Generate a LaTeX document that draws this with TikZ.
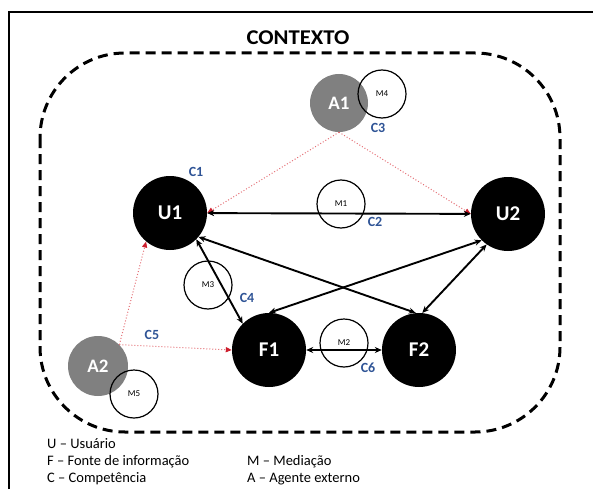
\documentclass[tikz,border=0pt]{standalone}
\usepackage{fontspec}
\setmainfont{Carlito}
\usetikzlibrary{arrows.meta}
\definecolor{cblue}{RGB}{47,84,150}
\definecolor{agray}{RGB}{128,128,128}
\definecolor{rline}{RGB}{228,112,118}
\definecolor{rtip}{RGB}{205,30,45}
\begin{document}
\begin{tikzpicture}[x=1pt,y=-1pt,
    big/.style={circle,fill=black,text=white,inner sep=0pt,minimum size=74pt,font=\fontsize{21}{21}\selectfont\bfseries},
    agent/.style={circle,fill=agray,text=white,inner sep=0pt,minimum size=58pt,font=\fontsize{19}{19}\selectfont\bfseries},
    med/.style={circle,draw,line width=1.2pt,inner sep=0pt,minimum size=48pt,font=\fontsize{9}{9}\selectfont},
    comp/.style={text=cblue,inner sep=0pt,font=\fontsize{14}{14}\selectfont\bfseries},
    lgd/.style={anchor=west,inner sep=0pt,font=\fontsize{14.5}{14.5}\selectfont},
    rel/.style={{Stealth[length=7pt,width=6pt]}-{Stealth[length=7pt,width=6pt]},line width=1.9pt},
    ext/.style={-{Triangle[length=6pt,width=5pt,color=rtip]},rline,dotted,line width=1pt}]
    \useasboundingbox(0,0)rectangle(593,489);
    % frame and context
    \draw[line width=2pt](9,489)--(9,12)--(593,12);
    \node[font=\fontsize{21}{21}\selectfont\bfseries,xscale=1.08](ctx)at(298,38){CONTEXTO};
    \draw[line width=3pt,dash pattern=on 10pt off 6pt,rounded corners=85pt](40,53)rectangle(560,432);
    % users and sources
    \node[big](U1)at(170,213){U1};
    \node[big](U2)at(508,214){U2};
    \node[big](F1)at(269,350){F1};
    \node[big](F2)at(419,350){F2};
    % external agents
    \node[agent](A1)at(339,103){A1};
    \node[agent,minimum size=60pt](A2)at(98,366){A2};
    % mediations
    \node[med](M1)at(341,204){M1};
    \node[med](M2)at(344,343){M2};
    \node[med](M3)at(208,285){M3};
    \node[med](M4)at(382,94){M4};
    \node[med](M5)at(134,394){M5};
    % competences
    \node[comp](C1)at(196,172){C1};
    \node[comp](C2)at(375,222){C2};
    \node[comp](C3)at(378,128){C3};
    \node[comp](C4)at(247,298){C4};
    \node[comp](C5)at(152,335){C5};
    \node[comp](C6)at(368,368){C6};
    % relations
    \draw[ext](A1.south)--(U1.east);
    \draw[ext](A1.south)--(U2.west);
    \draw[ext](A2.north east)--(U1.230);
    \draw[ext](A2.north east)--(F1.west);
    \draw[rel](U1)--(U2);
    \draw[rel](U1.south east)--(F1.north west);
    \draw[rel](U1.-40)--(F2.95);
    \draw[rel](U2.-135)--(F1.north);
    \draw[rel](U2.-125)--(F2.85);
    \draw[rel](F1)--(F2);
    % legend
    \node[lgd](lu)at(47,444){U – Usuário};
    \node[lgd](lf)at(47,462){F – Fonte de informação};
    \node[lgd](lc)at(47,479){C – Competência};
    \node[lgd](lm)at(247,462){M – Mediação};
    \node[lgd](la)at(247,479){A – Agente externo};
\end{tikzpicture}
\end{document}
